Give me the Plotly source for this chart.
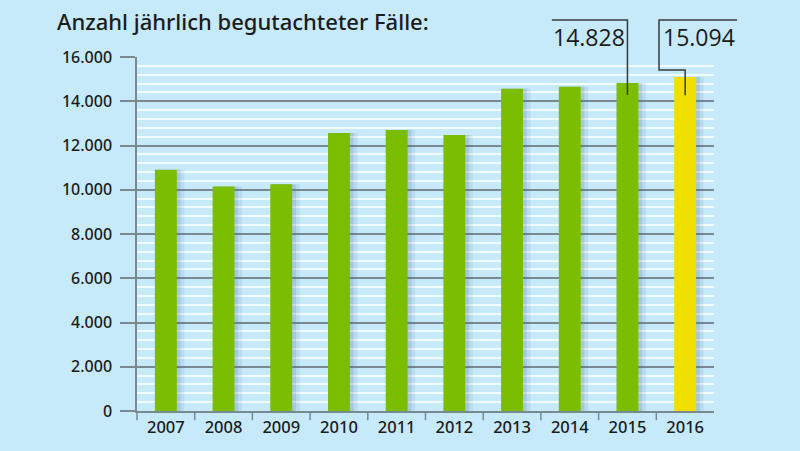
import plotly.graph_objects as go

years = ["2007", "2008", "2009", "2010", "2011", "2012", "2013", "2014", "2015", "2016"]
cases = [10900, 10150, 10250, 12570, 12700, 12470, 14560, 14660, 14828, 15094]
label_2015 = "14.828"
label_2016 = "15.094"
y_ticks = [0, 2000, 4000, 6000, 8000, 10000, 12000, 14000, 16000]

GREEN = "#7bbd00"
YELLOW = "#f0df00"
BG = "#c6eafa"
GRID = "#7a8990"
TXT = "#1b1b1b"

bar_colors = [GREEN] * (len(years) - 1) + [YELLOW]

fig = go.Figure()
# soft drop shadow behind the bars
fig.add_trace(go.Bar(x=years, y=cases, width=0.48, offset=-0.16,
                     marker=dict(color="rgba(70,100,150,0.10)", line=dict(width=0)),
                     hoverinfo="skip", showlegend=False))
fig.add_trace(go.Bar(x=years, y=cases, width=0.43, offset=-0.175,
                     marker=dict(color="rgba(70,100,150,0.16)", line=dict(width=0)),
                     hoverinfo="skip", showlegend=False))
fig.add_trace(go.Bar(x=years, y=cases, width=0.38, offset=-0.19,
                     marker=dict(color=bar_colors, line=dict(width=0)),
                     showlegend=False))

n = len(years)
ymax = 16000
top_line = 1.1045


def cx(i):
    return (i + 0.5) / n


shapes = []
# category boundary ticks under the x axis
for i in range(n):
    shapes.append(dict(type="line", xref="paper", yref="paper", x0=i / n, x1=i / n,
                       y0=0, y1=-0.026, line=dict(color=GRID, width=1.5)))

# leader line for 2015
i15 = years.index("2015")
shapes.append(dict(type="path", xref="paper", yref="paper",
                   path=f"M {cx(i15)},{(cases[i15]-550)/ymax} L {cx(i15)},{top_line} L 0.719,{top_line}",
                   line=dict(color="#3a3a3a", width=1.5)))
# leader line for 2016
i16 = years.index("2016")
shapes.append(dict(type="path", xref="paper", yref="paper",
                   path=(f"M {cx(i16)},{(cases[i16]-820)/ymax} L {cx(i16)},0.963 "
                         f"L 0.9047,0.963 L 0.9047,{top_line} L 1.04,{top_line}"),
                   line=dict(color="#3a3a3a", width=1.5)))

annotations = [
    dict(xref="paper", yref="paper", x=0.7175, y=1.056, xanchor="left", yanchor="middle",
         text=label_2015, showarrow=False, font=dict(family="Open Sans", size=23, color=TXT)),
    dict(xref="paper", yref="paper", x=0.909, y=1.056, xanchor="left", yanchor="middle",
         text=label_2016, showarrow=False, font=dict(family="Open Sans", size=23, color=TXT)),
]

fig.update_layout(
    width=800, height=451,
    margin=dict(l=137, r=86, t=57, b=40),
    paper_bgcolor=BG, plot_bgcolor=BG,
    barmode="overlay",
    separators=",.",
    title=dict(text="Anzahl jährlich begutachteter Fälle:", xref="container", yref="container",
               x=57 / 800, y=1 - 22 / 451, xanchor="left", yanchor="middle",
               font=dict(family="Noto Sans", size=22, weight=500, color=TXT)),
    shapes=shapes,
    annotations=annotations,
    xaxis=dict(showgrid=False, showline=True, linecolor=GRID, linewidth=1.5,
               ticks="", tickfont=dict(family="Noto Sans", size=16.5, weight=500, color=TXT),
               range=[-0.5, n - 0.5], fixedrange=True),
    yaxis=dict(range=[0, ymax], tickvals=y_ticks, tickformat=",d",
               showgrid=True, gridcolor=GRID, gridwidth=1.5,
               showline=True, linecolor=GRID, linewidth=1.5,
               ticks="outside", ticklen=15, tickwidth=1.5, tickcolor=GRID,
               zeroline=False, ticklabelstandoff=5,
               tickfont=dict(family="Noto Sans", size=16, weight=500, color=TXT),
               minor=dict(dtick=400, showgrid=True, gridcolor="rgba(255,255,255,0.8)", gridwidth=1.5),
               fixedrange=True),
)

fig.write_html("out.html", config={"displayModeBar": False},
               post_script="document.body.style.margin='0';document.body.style.background='#c6eafa';")
